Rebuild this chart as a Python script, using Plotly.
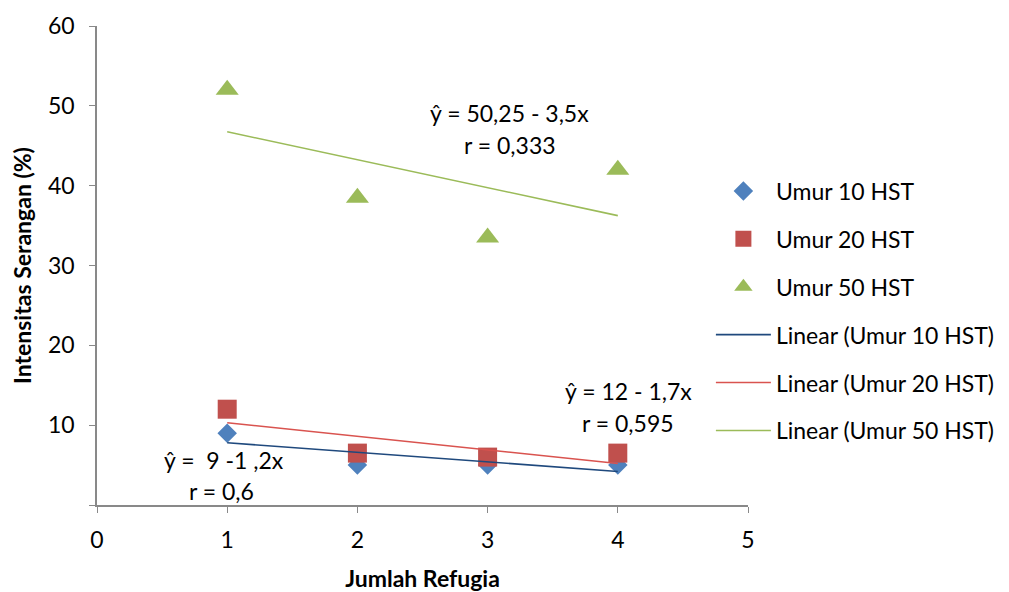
import numpy as np
import plotly.graph_objects as go

x_vals = [1, 2, 3, 4]
umur10 = [9, 5, 5, 5]
umur20 = [12, 6.5, 6, 6.5]
umur50 = [52, 38.5, 33.5, 42]
series_names = ["Umur 10 HST", "Umur 20 HST", "Umur 50 HST"]
y_ticks = [0, 10, 20, 30, 40, 50, 60]
x_ticks = [0, 1, 2, 3, 4, 5]

FONT = "Lato, Carlito, Calibri, sans-serif"
FS = 23
marker_colors = ["#4F81BD", "#C0504D", "#9BBB59"]
line_colors = ["#1F497D", "#D9534F", "#9BBB59"]
symbols = ["diamond", "square", "triangle-up"]
sizes = [15, 19, 20]

fig = go.Figure()
data = [umur10, umur20, umur50]
for i, (name, ys) in enumerate(zip(series_names, data)):
    fig.add_trace(go.Scatter(
        x=x_vals, y=ys, mode="markers", name=name, legendgroup=f"g{i}",
        marker=dict(symbol=symbols[i], size=sizes[i], color=marker_colors[i],
                    line=dict(width=0)),
    ))
for i, (name, ys) in enumerate(zip(series_names, data)):
    slope, intercept = np.polyfit(x_vals, ys, 1)
    xs = [x_vals[0], x_vals[-1]]
    fig.add_trace(go.Scatter(
        x=xs, y=[intercept + slope * v for v in xs], mode="lines",
        name=f"Linear ({name})", legendgroup=f"l{i}",
        line=dict(color=line_colors[i], width=1.6),
    ))

annots = [
    ("ŷ = 50,25 - 3,5x", 3.17, 49.1),
    ("r = 0,333", 3.17, 45.1),
    ("ŷ = 12 - 1,7x", 4.08, 14.3),
    ("r = 0,595", 4.08, 10.3),
    ("ŷ =  9 -1 ,2x", 0.975, 5.6),
    ("r = 0,6", 0.96, 1.75),
]
for text, ax, ay in annots:
    fig.add_annotation(x=ax, y=ay, text=text, showarrow=False,
                       font=dict(size=FS, color="#000000", family=FONT))

fig.update_layout(
    width=1009, height=592,
    margin=dict(l=89, r=269, t=18, b=95, autoexpand=False),
    plot_bgcolor="white", paper_bgcolor="white",
    font=dict(family=FONT, size=FS, color="#000000"),
    showlegend=True,
    legend=dict(x=0.943, xanchor="left", y=0.405, yanchor="middle",
                font=dict(size=FS, family=FONT), tracegroupgap=15,
                itemwidth=55, bgcolor="rgba(0,0,0,0)"),
    xaxis=dict(range=[0, 5], tickvals=x_ticks, showgrid=False, zeroline=False,
               automargin=False,
               showline=True, linecolor="#898989", linewidth=1.5,
               ticks="outside", ticklen=6, tickcolor="#898989",
               tickfont=dict(size=FS), ticklabelstandoff=8,
               title=dict(text="<b>Jumlah Refugia</b>", font=dict(size=FS), standoff=19)),
    yaxis=dict(range=[0, 60], tickvals=y_ticks,
               ticktext=["" if v == 0 else str(v) for v in y_ticks],
               showgrid=False, zeroline=False, automargin=False,
               showline=True, linecolor="#898989", linewidth=1.5,
               ticks="outside", ticklen=6, tickcolor="#898989",
               tickfont=dict(size=FS), ticklabelstandoff=10,
               title=dict(text="<b>Intensitas Serangan (%)</b>", font=dict(size=FS), standoff=12)),
)

fig.write_html("out.html")
